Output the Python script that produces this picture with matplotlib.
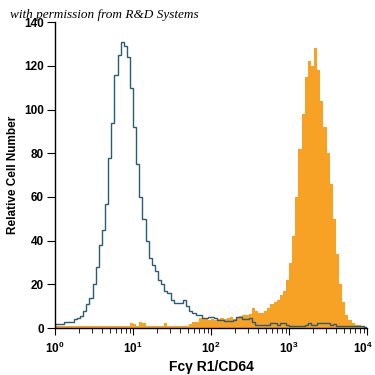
import numpy as np
import matplotlib
matplotlib.use("Agg")
import matplotlib.pyplot as plt
import matplotlib.transforms as mtransforms
from matplotlib.ticker import LogLocator, FixedLocator

plt.rcParams['font.family'] = ['Liberation Sans', 'DejaVu Sans']

# 100 log-spaced channels from 10^0 to 10^4
bin_edges = np.logspace(0, 4, 101)

isotype_counts = [
    2, 2, 2, 3, 3, 3, 4, 4.5, 5.5, 8,
    11, 14, 20, 28, 38, 45, 57, 78, 94, 116,
    125, 131, 129, 124, 110, 92, 75, 60, 50, 40,
    32, 29, 26, 22, 20, 17, 16, 13, 11.5, 11.5,
    11.5, 13, 10, 8, 7, 6, 6, 4.5, 4.5, 5,
    5, 4.5, 3.5, 3.5, 3.3, 3.3, 3.3, 3.5, 5, 5,
    4, 4, 4.5, 2.7, 1.5, 1.5, 1.5, 1.5, 1.5, 2.5,
    2.5, 1.5, 2.5, 2.5, 1.5, 1, 1, 1, 1, 1,
    1.5, 2.5, 1.5, 1.5, 2.5, 2.5, 2.5, 2.5, 1.5, 2,
    1, 1, 1, 1, 1, 1, 1, 1, 1, 0.5,
]

cd64_counts = [
    1, 1, 1, 1, 1, 1, 1, 1, 1, 1,
    1, 1, 1, 1, 1, 1, 1, 1, 1, 1,
    1, 1, 1, 1, 2.2, 1.8, 1, 2.6, 2.2, 1,
    1, 1, 1, 1, 1, 2.4, 1, 1, 1, 1,
    1, 1, 1, 1.8, 2.6, 3, 4.5, 4, 4.5, 3.5,
    4, 3.5, 4, 4.5, 4, 4.5, 5, 4, 5, 5.5,
    6, 6, 6.5, 9, 8, 7, 7, 8, 9, 11,
    12, 13, 15, 17, 22, 30, 42, 60, 82, 98,
    115, 122, 120, 128, 118, 104, 92, 80, 66, 50,
    34, 20, 12, 6, 3.5, 2.5, 1.5, 1.5, 1.2, 0.5,
]

y_ticks = [0, 20, 40, 60, 80, 100, 120, 140]

fig = plt.figure(figsize=(3.75, 3.75), dpi=100)
ax = fig.add_axes([0.147, 0.125, 0.832, 0.816])

ax.stairs(cd64_counts, bin_edges, fill=True, color="#f7a125", linewidth=0)
ax.stairs(isotype_counts, bin_edges, color="#2a5b78", linewidth=1.0)

ax.set_xscale("log")
ax.set_xlim(1, 1e4)
ax.set_ylim(0, 140)
ax.set_yticks(y_ticks)
ax.xaxis.set_major_locator(FixedLocator([1, 10, 100, 1000, 10000]))
ax.xaxis.set_minor_locator(LogLocator(base=10, subs=np.arange(2, 10)))

for side in ["top", "right"]:
    ax.spines[side].set_visible(False)
ax.spines["left"].set_linewidth(1.0)
ax.spines["bottom"].set_linewidth(1.0)

ax.tick_params(axis="y", direction="out", length=6, width=0.8, labelsize=8.5, pad=2)
ax.tick_params(axis="x", which="major", direction="out", length=5, width=0.8, labelsize=8.5, pad=4)
ax.tick_params(axis="x", which="minor", direction="out", length=3.5, width=0.6)
for lbl in ax.get_yticklabels() + ax.get_xticklabels():
    lbl.set_fontweight("bold")

# nudge the last x label so it stays inside the canvas
fig.canvas.draw()
last = ax.get_xticklabels()[-1]
last.set_transform(last.get_transform() + mtransforms.ScaledTranslation(-4 / 100, 0, fig.dpi_scale_trans))

ax.set_xlabel("Fcγ R1/CD64", fontsize=10, fontweight="bold", labelpad=3)
ax.set_ylabel("Relative Cell Number", fontsize=8.5, fontweight="bold", labelpad=4)

fig.text(0.027, 0.952, "with permission from R&D Systems", fontsize=9.5,
         style="italic", family="Liberation Serif")

fig.savefig("out.png", dpi=100)
